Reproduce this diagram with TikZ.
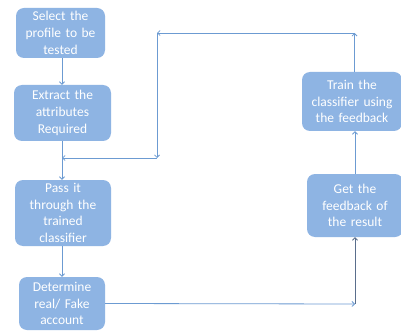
\documentclass[tikz,border=0pt]{standalone}
\usepackage{fontspec}
\setmainfont{Carlito}
\usetikzlibrary{arrows.meta,calc}
\definecolor{boxfill}{RGB}{142,180,227}
\definecolor{linecol}{RGB}{108,155,210}
\definecolor{darkline}{RGB}{90,110,140}
\begin{document}
\begin{tikzpicture}[x=1pt,y=-1pt,
  stepbox/.style={fill=boxfill,rounded corners=8pt,text=white,align=center,
    font=\fontsize{13.5}{16.7}\selectfont,inner sep=0pt},
  conn/.style={draw=linecol,line width=0.8pt,-{Straight Barb[length=2.5pt,width=5pt]}}]
\useasboundingbox (0,0) rectangle (401,331);
\fill[white] (0,0) rectangle (401,331);
\node[stepbox,minimum width=89pt,minimum height=50pt,text width=85pt] (b1) at (60.5,33) {Select the\\profile to be\\tested};
\node[stepbox,minimum width=97pt,minimum height=56pt,text width=93pt] (b2) at (62.5,113) {Extract the\\attributes\\Required};
\node[stepbox,minimum width=96pt,minimum height=66pt,text width=92pt] (b3) at (63,213) {Pass it\\through the\\trained\\classifier};
\node[stepbox,minimum width=86pt,minimum height=53pt,text width=82pt] (b4) at (62,303.5) {Determine\\real/ Fake\\account};
\node[stepbox,minimum width=96pt,minimum height=63pt,text width=92pt] (b5) at (355,205.5) {Get the\\feedback of\\the result};
\node[stepbox,minimum width=100pt,minimum height=59pt,text width=96pt] (b6) at (352,101.5) {Train the\\classifier using\\the feedback};
\coordinate (c1) at (355,304);
\coordinate (c2) at (354.5,33);
\coordinate (c3) at (157,33);
\coordinate (c4) at (157,158);
\coordinate (c5) at (62,158);
\draw[conn] (b1.south -| 62,0) -- (b2.north -| 62,0);
\draw[draw=linecol,line width=0.8pt] (b2.south -| 62,0) -- (c5);
\draw[conn] (c5) -- (b3.north -| 62,0);
\draw[conn] (b3.south -| 62,0) -- (b4.north -| 62,0);
\draw[conn] (b4.east) -- (c1);
\draw[conn,draw=darkline] (c1) -- (b5.south -| c1);
\draw[conn] (b5.north -| c1) -- (b6.south -| c1);
\draw[conn] (b6.north -| c2) -- (c2);
\draw[conn] (c2) -- (c3);
\draw[conn] (c3) -- (c4);
\draw[conn] (c4) -- (c5);
\end{tikzpicture}
\end{document}
